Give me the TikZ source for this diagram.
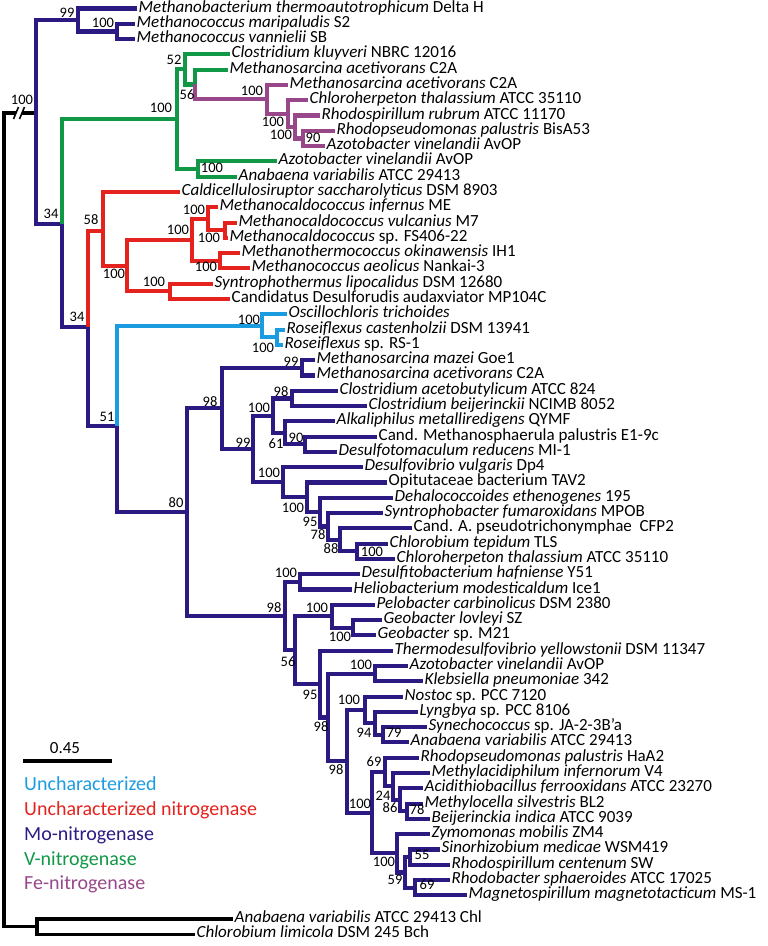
\documentclass[tikz,border=0pt]{standalone}
\usepackage{fontspec}
\setmainfont{Carlito}
\definecolor{moblue}{RGB}{44,26,130}
\definecolor{vgreen}{RGB}{16,152,70}
\definecolor{fepurple}{RGB}{152,72,138}
\definecolor{unred}{RGB}{228,34,30}
\definecolor{ucblue}{RGB}{28,156,224}
\newcommand\Y[1]{8.5+15.29*#1-15.29}
\tikzset{
  branch/.style={line width=4.1pt},
  mo/.style={branch,draw=moblue},
  vn/.style={branch,draw=vgreen},
  fe/.style={branch,draw=fepurple},
  un/.style={branch,draw=unred},
  uc/.style={branch,draw=ucblue},
  og/.style={branch,draw=black,line width=3.2pt},
  leaf/.style={anchor=west,inner xsep=1.5pt,inner ysep=0pt,
    font=\fontsize{17}{18}\selectfont,text height=10pt,text depth=3pt},
  boot/.style={inner sep=0pt,font=\fontsize{14.5}{15}\selectfont,
    text height=9.2pt,text depth=0pt},
  key/.style={anchor=base west,inner sep=0pt,font=\fontsize{20}{21}\selectfont}
}

\begin{document}
\begin{tikzpicture}[x=1pt,y=-1pt]
  \useasboundingbox (0,0) rectangle (768,946);

  % inner nodes of the tree
  \foreach \n/\x/\y in {root/4/520, brkL/16/113, brkR/22/113, nOut/37/926.5,
      nMo/36/113, nMbt/78/20, nMcc/117/31.45, nVF/62/224, nUn/88/327,
      nV/177/119.2, nVa/185/69.4, nVb/195/84.47, nVc/198/169.05,
      nFe/267/99.25, nFeb/288/113.59, nFec/295/126.98, nFed/303/138.45,
      nRed/103/231, nRa/127/265.6, nRb/192/239.8, nRc/208/218.8,
      nRd/225/230.25, nRe/220/260.75, nRf/170/291.35,
      nUc/117/426, nLb1/262/325.8, nLb2/277/337.25,
      nMain/187/512.2, nA/222/408.4, nAa/302/367.85, nAb/253/448.9,
      nAc/273/415.6, nAd/292/398.45, nAe/285/432.8, nAf/305/444.25,
      nAg/283/482.25, nAh/307/497.3, nAi/320/512.15, nAj/328/526.5,
      nAk/340/539.9, nAl/357/551.35,
      nB/285/616.05, nBa/300/581.9, nBb/295/650.2, nBc/332/616.3,
      nBd/353/627.75, nBe/320/684.1, nBf/328/717.5, nBg/375/673.65,
      nBh/347/761.35, nBi/365/710, nBj/375/723.4, nBk/383/734.85,
      nBl/372/812.7, nBm/385/772.05, nBn/393/786.4, nBo/400/799.8,
      nBp/407/811.25, nBq/397/853.3, nBr/405/872.45, nBs/410/857.15,
      nBt/415/887.75}
    \coordinate (\n) at (\x,\y);

  % leaves
  \foreach \tx/\i/\lab in {
      137/1/{\textit{Methanobacterium thermoautotrophicum} Delta H},
      135/2/{\textit{Methanococcus maripaludis} S2},
      135/3/{\textit{Methanococcus vannielii} SB},
      230/4/{\textit{Clostridium kluyveri} NBRC 12016},
      228/5/{\textit{Methanosarcina acetivorans} C2A},
      288/6/{\textit{Methanosarcina acetivorans} C2A},
      308/7/{\textit{Chloroherpeton thalassium} ATCC 35110},
      320/8/{\textit{Rhodospirillum rubrum} ATCC 11170},
      335/9/{\textit{Rhodopseudomonas palustris} BisA53},
      325/10/{\textit{Azotobacter vinelandii} AvOP},
      277/11/{\textit{Azotobacter vinelandii} AvOP},
      237/12/{\textit{Anabaena variabilis} ATCC 29413},
      180/13/{\textit{Caldicellulosiruptor saccharolyticus} DSM 8903},
      218/14/{\textit{Methanocaldococcus infernus} ME},
      237/15/{\textit{Methanocaldococcus vulcanius} M7},
      228/16/{\textit{Methanocaldococcus} sp. FS406-22},
      240/17/{\textit{Methanothermococcus okinawensis} IH1},
      250/18/{\textit{Methanococcus aeolicus} Nankai-3},
      213/19/{\textit{Syntrophothermus lipocalidus} DSM 12680},
      230/20/{Candidatus Desulforudis audaxviator MP104C},
      287/21/{\textit{Oscillochloris trichoides}},
      285/22/{\textit{Roseiflexus castenholzii} DSM 13941},
      283/23/{\textit{Roseiflexus} sp. RS-1},
      315/24/{\textit{Methanosarcina mazei} Goe1},
      315/25/{\textit{Methanosarcina acetivorans} C2A},
      338/26/{\textit{Clostridium acetobutylicum} ATCC 824},
      367/27/{\textit{Clostridium beijerinckii} NCIMB 8052},
      335/28/{\textit{Alkaliphilus metalliredigens} QYMF},
      377/29/{Cand. Methanosphaerula palustris E1-9c},
      337/30/{\textit{Desulfotomaculum reducens} MI-1},
      363/31/{\textit{Desulfovibrio vulgaris} Dp4},
      387/32/{Opitutaceae bacterium TAV2},
      393/33/{\textit{Dehalococcoides ethenogenes} 195},
      383/34/{\textit{Syntrophobacter fumaroxidans} MPOB},
      412/35/{Cand. A. pseudotrichonymphae\ \ CFP2},
      388/36/{\textit{Chlorobium tepidum} TLS},
      395/37/{\textit{Chloroherpeton thalassium} ATCC 35110},
      360/38/{\textit{Desulfitobacterium hafniense} Y51},
      352/39/{\textit{Heliobacterium modesticaldum} Ice1},
      375/40/{\textit{Pelobacter carbinolicus} DSM 2380},
      382/41/{\textit{Geobacter lovleyi} SZ},
      376/42/{\textit{Geobacter} sp. M21},
      393/43/{\textit{Thermodesulfovibrio yellowstonii} DSM 11347},
      408/44/{\textit{Azotobacter vinelandii} AvOP},
      423/45/{\textit{Klebsiella pneumoniae} 342},
      403/46/{\textit{Nostoc} sp. PCC 7120},
      418/47/{\textit{Lyngbya} sp. PCC 8106},
      427/48/{\textit{Synechococcus} sp. JA-2-3B'a},
      409/49/{\textit{Anabaena variabilis} ATCC 29413},
      419/50/{\textit{Rhodopseudomonas palustris} HaA2},
      430/51/{\textit{Methylacidiphilum infernorum} V4},
      423/52/{\textit{Acidithiobacillus ferrooxidans} ATCC 23270},
      423/53/{\textit{Methylocella silvestris} BL2},
      430/54/{\textit{Beijerinckia indica} ATCC 9039},
      430/55/{\textit{Zymomonas mobilis} ZM4},
      440/56/{\textit{Sinorhizobium medicae} WSM419},
      450/57/{\textit{Rhodospirillum centenum} SW},
      450/58/{\textit{Rhodobacter sphaeroides} ATCC 17025},
      467/59/{\textit{Magnetospirillum magnetotacticum} MS-1}}
    \node[leaf] (l\i) at (\tx,\Y{\i}) {\lab};
  \node[leaf] (l60) at (233,919) {\textit{Anabaena variabilis} ATCC 29413 Chl};
  \node[leaf] (l61) at (195,934.3) {\textit{Chlorobium limicola} DSM 245 Bch};

  % branches
  \foreach \p/\c in {root/brkL, root/nOut, nOut/l60.west, nOut/l61.west}
    \draw[og] (\p) |- (\c);
  \draw[og] (brkR) -- (nMo);
  \draw[line width=1.6pt] (13.5,119) -- (18.5,107) (19.5,119) -- (24.5,107);

  \foreach \p/\c in {nMo/nMbt, nMo/nVF, nMbt/l1.west, nMbt/nMcc,
      nMcc/l2.west, nMcc/l3.west, nVF/nUn, nUn/nUc, nUc/nMain,
      nMain/nA, nMain/nB, nA/nAa, nA/nAb, nAa/l24.west, nAa/l25.west,
      nAb/nAc, nAb/nAg, nAc/nAd, nAc/nAe, nAd/l26.west, nAd/l27.west,
      nAe/l28.west, nAe/nAf, nAf/l29.west, nAf/l30.west,
      nAg/l31.west, nAg/nAh, nAh/l32.west, nAh/nAi, nAi/l33.west, nAi/nAj,
      nAj/l34.west, nAj/nAk, nAk/l35.west, nAk/nAl, nAl/l36.west, nAl/l37.west,
      nB/nBa, nB/nBb, nBa/l38.west, nBa/l39.west, nBb/nBc, nBb/nBe,
      nBc/l40.west, nBc/nBd, nBd/l41.west, nBd/l42.west,
      nBe/l43.west, nBe/nBf, nBf/nBg, nBf/nBh, nBg/l44.west, nBg/l45.west,
      nBh/nBi, nBh/nBl, nBi/l46.west, nBi/nBj, nBj/l47.west, nBj/nBk,
      nBk/l48.west, nBk/l49.west, nBl/nBm, nBl/nBq,
      nBm/l50.west, nBm/nBn, nBn/l51.west, nBn/nBo, nBo/l52.west, nBo/nBp,
      nBp/l53.west, nBp/l54.west, nBq/l55.west, nBq/nBr, nBr/nBs, nBr/nBt,
      nBs/l56.west, nBs/l57.west, nBt/l58.west, nBt/l59.west}
    \draw[mo] (\p) |- (\c);

  \foreach \p/\c in {nVF/nV, nV/nVa, nV/nVc, nVa/l4.west, nVa/nVb,
      nVb/l5.west, nVc/l11.west, nVc/l12.west}
    \draw[vn] (\p) |- (\c);

  \foreach \p/\c in {nVb/nFe, nFe/l6.west, nFe/nFeb, nFeb/l7.west, nFeb/nFec,
      nFec/l8.west, nFec/nFed, nFed/l9.west, nFed/l10.west}
    \draw[fe] (\p) |- (\c);

  \foreach \p/\c in {nUn/nRed, nRed/l13.west, nRed/nRa, nRa/nRb, nRa/nRf,
      nRb/nRc, nRb/nRe, nRc/l14.west, nRc/nRd, nRd/l15.west, nRd/l16.west,
      nRe/l17.west, nRe/l18.west, nRf/l19.west, nRf/l20.west}
    \draw[un] (\p) |- (\c);

  \foreach \p/\c in {nUc/nLb1, nLb1/l21.west, nLb1/nLb2,
      nLb2/l22.west, nLb2/l23.west}
    \draw[uc] (\p) |- (\c);

  % bootstrap values
  \foreach \x/\y/\v [count=\k] in {22/100/100, 67/13/99, 103/23/100,
      51/214/34, 161/108/100, 174/60/52, 187/95/56, 252/91/100, 273/122/100,
      281/135/100, 313/138/90, 212/168/100, 91/220/58, 114/274/100,
      178/230/100, 194/210/100, 209/238/100, 206/267/100, 154/282/100,
      77/317/34, 249/320/100, 263/348/100, 107/417/51, 176/503/80,
      210/402/98, 291/362/99, 243/443/99, 259/408/100, 281/392/98,
      276/444/61, 296/438/90, 269/473/100, 293/508/100, 310/522/95,
      318/535/78, 331/549/88, 372/552/100, 286/573/100, 274/608/98,
      317/608/100, 340/637/100, 288/662/56, 310/695/95, 361/665/100,
      349/700/100, 321/727/98, 364/733/94, 394/733/79, 336/770/98,
      374/762/69, 383/796/24, 390/808/86, 417/810/78, 360/804/100,
      384/862/100, 422/855/55, 395/880/59, 427/885/69}
    \node[boot] (b\k) at (\x,\y) {\v};

  % scale bar and key
  \coordinate (sbL) at (23,761);
  \coordinate (sbR) at (112,761);
  \draw[og] (sbL) -- (sbR);
  \node[anchor=base,inner sep=0pt,font=\fontsize{17}{18}\selectfont] (sbT) at (65,753) {0.45};
  \node[key,text=ucblue] (kUc) at (24,790) {Uncharacterized};
  \node[key,text=unred] (kUn) at (24,815) {Uncharacterized nitrogenase};
  \node[key,text=moblue] (kMo) at (24,840) {Mo-nitrogenase};
  \node[key,text=vgreen] (kV) at (24,865) {V-nitrogenase};
  \node[key,text=fepurple] (kFe) at (24,889) {Fe-nitrogenase};
\end{tikzpicture}
\end{document}
